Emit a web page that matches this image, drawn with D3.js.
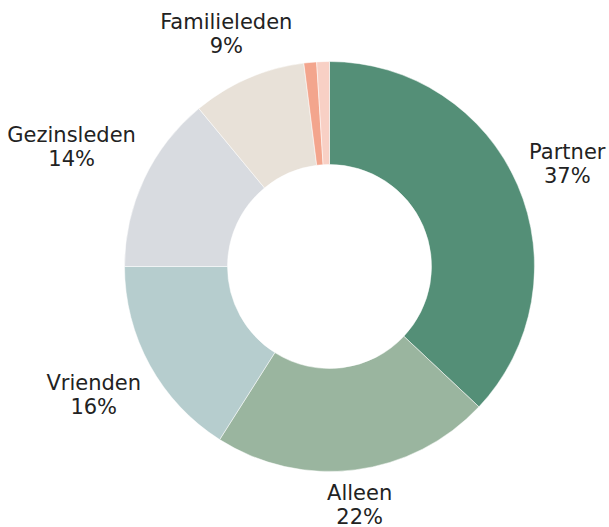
<!DOCTYPE html>
<html>
<head>
<meta charset="utf-8">
<script src="https://cdn.jsdelivr.net/npm/d3@7"></script>
<style>
  body { margin: 0; background: #fff; }
  svg { display: block; }
  .lbl { font-family: "DejaVu Sans", sans-serif; font-size: 21px; fill: #222; }
</style>
</head>
<body>
<svg id="chart" width="609" height="527"></svg>
<script>
// donut data, in drawing order (clockwise from 12 o'clock)
const categories = ["Partner", "Alleen", "Vrienden", "Gezinsleden", "Familieleden", "Overig 1", "Overig 2"];
const values = [37, 22, 16, 14, 9, 1, 1];
const labels = ["37%", "22%", "16%", "14%", "9%", "", ""];
const colors = ["#548f77", "#9ab59f", "#b6cdce", "#d8dbe0", "#e8e1d8", "#f3a58d", "#f8d0c5"];

const W = 609, H = 527;
const cx = 329.5, cy = 266.5;
const outerR = 205, innerR = 102;
const labelR = 224;

// small hand tweaks so labels sit where the original put them
const nudge = {
  "Partner": [-3, -4],
  "Alleen": [-2, -7],
  "Vrienden": [2, 10],
  "Gezinsleden": [3, -14],
  "Familieleden": [12, -6]
};

const svg = d3.select("#chart");
const g = svg.append("g").attr("transform", `translate(${cx},${cy})`);

const rows = categories.map((c, i) => ({ name: c, value: values[i], pct: labels[i], color: colors[i] }));

const pie = d3.pie().value(d => d.value).sort(null);
const arc = d3.arc().innerRadius(innerR).outerRadius(outerR);
const arcs = pie(rows);

g.selectAll("path.slice")
  .data(arcs)
  .enter()
  .append("path")
  .attr("class", "slice")
  .attr("d", arc)
  .attr("fill", d => d.data.color)
  .attr("stroke", "#fff")
  .attr("stroke-width", 0.5);

// labels: anchor point on a circle, then push the text box outward
arcs.filter(d => d.data.pct !== "").forEach(d => {
  const a = (d.startAngle + d.endAngle) / 2;
  const sx = Math.sin(a), sy = -Math.cos(a);
  const t = g.append("text").attr("class", "lbl").attr("text-anchor", "middle");
  t.append("tspan").attr("x", 0).attr("dy", 0).text(d.data.name);
  t.append("tspan").attr("x", 0).attr("dy", 24).text(d.data.pct);
  const bb = t.node().getBBox();
  const w = bb.width, h = 46;
  const n = nudge[d.data.name] || [0, 0];
  const px = sx * labelR + sx * w / 2 + n[0];
  const py = sy * labelR + sy * h / 2 + n[1];
  // box centre sits about 5px under the first baseline
  t.attr("transform", `translate(${px},${py - 5})`);
});
</script>
</body>
</html>
